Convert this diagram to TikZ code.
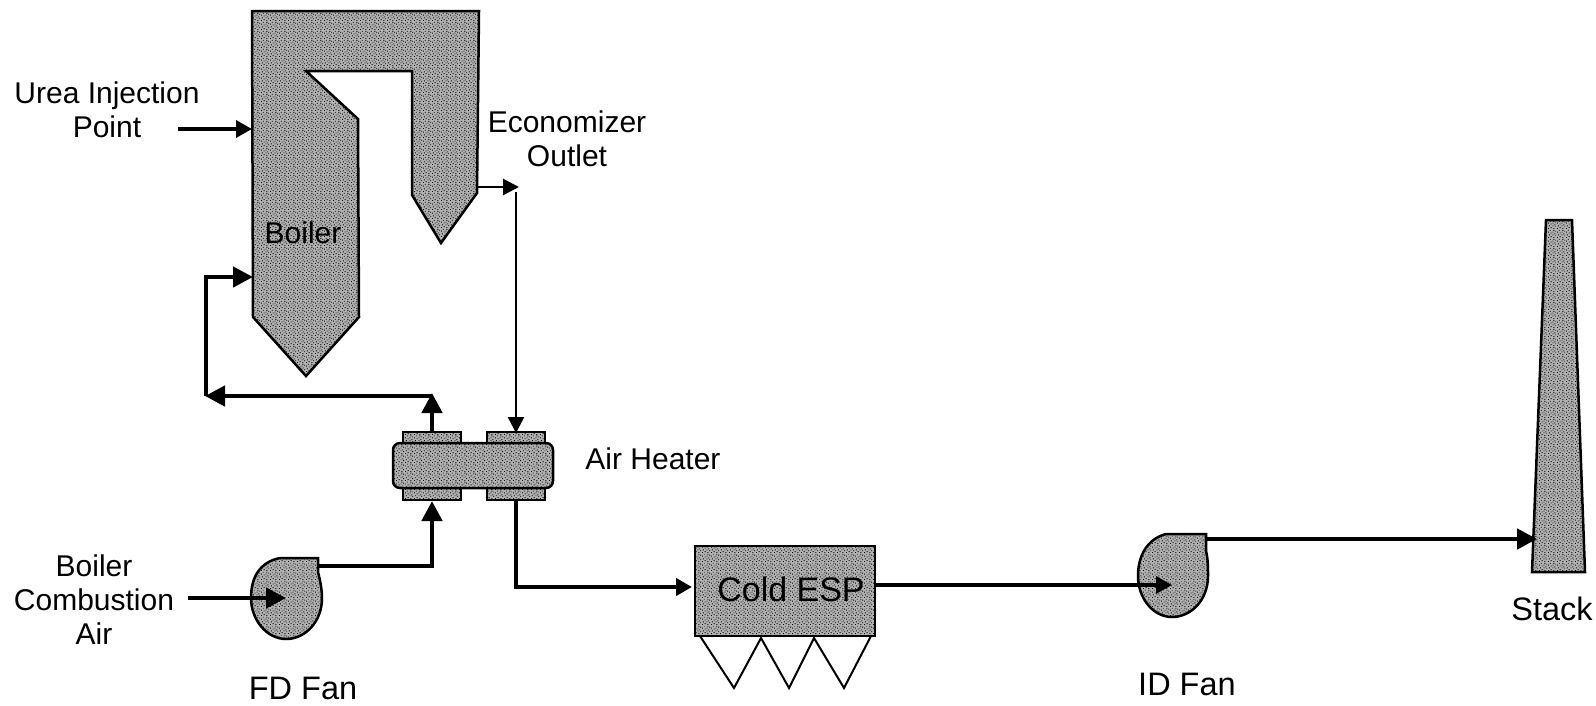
\documentclass[tikz,border=0pt]{standalone}
\usepackage{fontspec}
\setmainfont{Liberation Sans}
\usetikzlibrary{arrows.meta,patterns}
\pgfdeclarepatternformonly{stipple}{\pgfqpoint{0pt}{0pt}}{\pgfqpoint{9pt}{9pt}}{\pgfqpoint{9pt}{9pt}}{%
  \pgfpathrectangle{\pgfqpoint{0pt}{0pt}}{\pgfqpoint{1pt}{1pt}}%
  \pgfpathrectangle{\pgfqpoint{3pt}{1pt}}{\pgfqpoint{1pt}{1pt}}%
  \pgfpathrectangle{\pgfqpoint{6pt}{0pt}}{\pgfqpoint{1pt}{1pt}}%
  \pgfpathrectangle{\pgfqpoint{8pt}{2pt}}{\pgfqpoint{1pt}{1pt}}%
  \pgfpathrectangle{\pgfqpoint{1pt}{3pt}}{\pgfqpoint{1pt}{1pt}}%
  \pgfpathrectangle{\pgfqpoint{5pt}{3pt}}{\pgfqpoint{1pt}{1pt}}%
  \pgfpathrectangle{\pgfqpoint{7pt}{4pt}}{\pgfqpoint{1pt}{1pt}}%
  \pgfpathrectangle{\pgfqpoint{3pt}{5pt}}{\pgfqpoint{1pt}{1pt}}%
  \pgfpathrectangle{\pgfqpoint{0pt}{6pt}}{\pgfqpoint{1pt}{1pt}}%
  \pgfpathrectangle{\pgfqpoint{5pt}{6pt}}{\pgfqpoint{1pt}{1pt}}%
  \pgfpathrectangle{\pgfqpoint{8pt}{7pt}}{\pgfqpoint{1pt}{1pt}}%
  \pgfpathrectangle{\pgfqpoint{2pt}{8pt}}{\pgfqpoint{1pt}{1pt}}%
  \pgfpathrectangle{\pgfqpoint{6pt}{8pt}}{\pgfqpoint{1pt}{1pt}}%
  \pgfusepath{fill}}
\tikzset{
  x=1pt,y=-1pt,
  lbl/.style={inner sep=0pt,align=center,font=\fontsize{30}{34}\selectfont,text=black},
  lblbig/.style={lbl,font=\fontsize{32.5}{36}\selectfont},
  lblesp/.style={lbl,font=\fontsize{34}{38}\selectfont},
  grain/.style={pattern=stipple,pattern color=black},
  fine/.style={line width=2.4pt,-{Triangle[length=16pt,width=16pt]}},
  mid/.style={line width=3.4pt,-{Triangle[length=16pt,width=17pt]}},
  heavy/.style={line width=4.6pt,-{Triangle[length=20pt,width=20pt]}},
  hopper/.style={draw=black,line width=2pt,line join=miter},
}
\newcommand{\stippled}[1]{\fill[black!30] #1; \fill[grain] #1; \draw[draw=black,line width=2.5pt,line join=miter] #1;}
\begin{document}
\begin{tikzpicture}
\useasboundingbox (0,0) rectangle (1596,705);
\fill[white] (0,0) rectangle (1596,705);

% equipment
\stippled{(252,11) -- (479,11) -- (477,193) -- (441,243) -- (412,195) -- (412,71) -- (306,71) -- (358,119) -- (359,317) -- (306,376) -- (253,317) -- cycle}
\stippled{(403,432) rectangle (461,443)}
\stippled{(487,432) rectangle (545,443)}
\stippled{(403,488) rectangle (461,500)}
\stippled{(487,488) rectangle (545,500)}
\stippled{[rounded corners=7pt] (393,443) rectangle (553,488)}
\stippled{(695,546) rectangle (875,636)}
\stippled{(1546,220) -- (1572,220) -- (1585,572) -- (1532,572) -- cycle}
\stippled{(318,572) .. controls (320,580) and (322,589) .. (322,598) .. controls (322,622) and (305,639) .. (286,639) .. controls (267,639) and (251,620) .. (251,598) .. controls (251,577) and (260,562) .. (280,558) -- (318,558) -- cycle}
\stippled{(1206,551) .. controls (1208,559) and (1208,567) .. (1208,576) .. controls (1208,600) and (1191,617) .. (1172,617) .. controls (1153,617) and (1138,598) .. (1138,576) .. controls (1138,556) and (1147,539) .. (1166,534) -- (1206,534) -- cycle}

% hoppers
\draw[hopper] (700,636) -- (734,688) -- (761,638) -- (789,688) -- (814,638) -- (844,688) -- (871,636);

% labels
\node[lbl] (urea) at (107,110) {Urea Injection\\Point};
\node[lbl] (boiler) at (303,233) {Boiler};
\node[lbl] (econ) at (567,139) {Economizer\\Outlet};
\node[lbl] (heater) at (653,459) {Air Heater};
\node[lbl] (air) at (94,600) {Boiler\\Combustion\\Air};
\node[lblbig] (fd) at (303,688) {FD Fan};
\node[lblesp] (esp) at (791,589) {Cold ESP};
\node[lblbig] (id) at (1187,684) {ID Fan};
\node[lblbig] (stack) at (1552,609) {Stack};

% connection points
\coordinate (ureaS) at (178,129);
\coordinate (ureaT) at (252,129);
\coordinate (econS) at (478,187);
\coordinate (econT) at (519,187);
\coordinate (downS) at (516,192);
\coordinate (hotIn) at (516,433);
\coordinate (hotOut) at (516,500);
\coordinate (espIn) at (692,587);
\coordinate (espOut) at (876,585);
\coordinate (idT) at (1172,585);
\coordinate (idOut) at (1206,539);
\coordinate (stackIn) at (1537,539);
\coordinate (caS) at (188,598);
\coordinate (fdT) at (286,598);
\coordinate (fdOut) at (318,566);
\coordinate (coldIn) at (432,501);
\coordinate (coldOut) at (432,433);
\coordinate (coldTop) at (432,393);
\coordinate (branch) at (432,396);
\coordinate (left) at (205,396);
\coordinate (corner) at (206,396);
\coordinate (boilerIn) at (253,277);

% connectors
\draw[mid] (ureaS) -- (ureaT);
\draw[fine] (econS) -- (econT);
\draw[fine] (downS) -- (hotIn);
\draw[heavy,-{Triangle[length=16pt,width=17pt]}] (hotOut) |- (espIn);
\draw[mid] (espOut) -- (idT);
\draw[heavy] (idOut) -- (stackIn);
\draw[heavy] (caS) -- (fdT);
\draw[heavy] (fdOut) -| (coldIn);
\draw[heavy] (coldOut) -- (coldTop);
\draw[heavy] (branch) -- (left);
\draw[heavy] (corner) |- (boilerIn);
\end{tikzpicture}
\end{document}
